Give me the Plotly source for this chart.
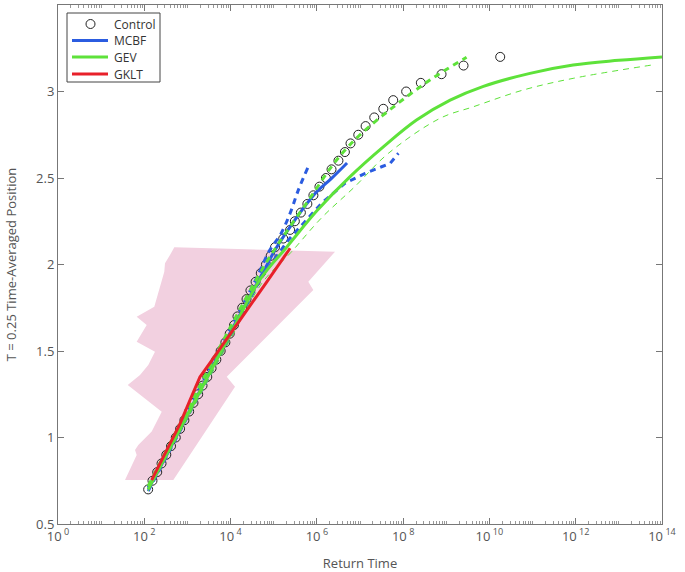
import plotly.graph_objects as go

# ---------------- data (exponents are log10 of return time) ----------------
control_exp = [2.09, 2.19, 2.30, 2.40, 2.51, 2.62, 2.73, 2.83, 2.93, 3.04, 3.14, 3.25, 3.35, 3.46,
               3.56, 3.67, 3.77, 3.88, 3.98, 4.08, 4.16, 4.27, 4.37, 4.46, 4.58, 4.70, 4.82, 4.93,
               5.03, 5.22, 5.38, 5.49, 5.63, 5.78, 5.92, 6.06, 6.21, 6.34, 6.50, 6.65, 6.78, 6.96,
               7.13, 7.33, 7.54, 7.77, 8.07, 8.41, 8.89, 9.40, 10.25]
control_val = [0.70, 0.75, 0.80, 0.85, 0.90, 0.95, 1.00, 1.05, 1.10, 1.15, 1.20, 1.25, 1.30, 1.35,
               1.40, 1.45, 1.50, 1.55, 1.60, 1.65, 1.70, 1.75, 1.80, 1.85, 1.90, 1.95, 2.00, 2.05,
               2.10, 2.15, 2.20, 2.25, 2.30, 2.35, 2.40, 2.45, 2.50, 2.55, 2.60, 2.65, 2.70, 2.75,
               2.80, 2.85, 2.90, 2.95, 3.00, 3.05, 3.10, 3.15, 3.20]

mcbf_exp = [2.09, 2.50, 3.00, 3.50, 4.00, 4.50, 4.85, 5.03, 5.49, 5.96, 6.34, 6.70]
mcbf_val = [0.70, 0.89, 1.13, 1.37, 1.61, 1.84, 2.00, 2.084, 2.257, 2.41, 2.498, 2.587]

mcbf_hi_exp = [2.09, 3.00, 4.00, 4.60, 4.91, 5.15, 5.38, 5.57, 5.80]
mcbf_hi_val = [0.71, 1.15, 1.63, 1.92, 2.084, 2.17, 2.296, 2.43, 2.565]

mcbf_lo_exp = [2.09, 3.00, 4.00, 4.70, 5.34, 6.11, 6.65, 7.12, 7.50, 7.70, 7.89]
mcbf_lo_val = [0.69, 1.12, 1.59, 1.92, 2.142, 2.354, 2.469, 2.527, 2.565, 2.585, 2.643]

gev_exp = [2.09, 3.00, 4.00, 4.70, 5.30, 6.00, 6.77, 7.54, 8.31, 9.09, 9.86, 10.94, 11.94, 13.00, 14.00]
gev_val = [0.70, 1.13, 1.60, 1.92, 2.10, 2.31, 2.508, 2.68, 2.835, 2.95, 3.03, 3.105, 3.153, 3.18, 3.20]

gev_hi_exp = [2.09, 3.00, 4.00, 4.80, 5.30, 5.84, 6.31, 6.65, 7.00, 7.77, 8.62, 9.47]
gev_hi_val = [0.72, 1.16, 1.64, 2.00, 2.19, 2.383, 2.556, 2.66, 2.75, 2.91, 3.066, 3.198]

gev_lo_exp = [2.09, 3.00, 4.00, 4.75, 5.40, 6.11, 6.88, 7.66, 8.855, 9.63, 10.79, 11.94, 13.76]
gev_lo_val = [0.69, 1.11, 1.57, 1.90, 2.07, 2.27, 2.45, 2.643, 2.845, 2.912, 3.009, 3.076, 3.153]

gklt_exp = [2.17, 2.52, 2.83, 3.06, 3.29, 3.52, 3.79, 4.06, 4.45, 4.84, 5.38]
gklt_val = [0.754, 0.93, 1.08, 1.217, 1.35, 1.43, 1.525, 1.62, 1.76, 1.90, 2.094]

band_exp = [2.696, 6.421, 5.802, 5.918, 3.911, 4.103, 2.673, 1.553, 1.824, 1.785, 1.861, 2.172,
            2.404, 1.616, 1.901, 2.093, 2.248, 1.824, 2.056, 1.824, 2.232, 2.464, 2.480, 2.596]
band_val = [2.099, 2.074, 1.901, 1.853, 1.351, 1.294, 0.754, 0.754, 0.899, 0.928, 0.957, 1.034,
            1.149, 1.303, 1.361, 1.419, 1.496, 1.554, 1.650, 1.698, 1.756, 1.958, 2.007, 2.055]

x_tick_exp = [0, 2, 4, 6, 8, 10, 12, 14]
y_ticks = [0.5, 1, 1.5, 2, 2.5, 3, 3.5]

legend_names = ["Control", "MCBF", "GEV", "GKLT"]

BLUE = "#2b5ce0"
GREEN = "#5ee23a"
RED = "#e8202a"
PINK = "rgb(242,208,224)"
legend_colors = [None, BLUE, GREEN, RED]


def tx(exps):
    return [10 ** e for e in exps]


fig = go.Figure()

fig.add_trace(go.Scatter(x=tx(band_exp), y=band_val, fill="toself", fillcolor=PINK,
                         line=dict(width=0, color=PINK), mode="lines", showlegend=False,
                         hoverinfo="skip"))

fig.add_trace(go.Scatter(x=tx(control_exp), y=control_val, mode="markers", name="Control",
                         showlegend=False,
                         marker=dict(symbol="circle-open", size=9, color="#222",
                                     line=dict(width=1, color="#222"))))

fig.add_trace(go.Scatter(x=tx(mcbf_exp), y=mcbf_val, mode="lines", name="MCBF", showlegend=False,
                         line=dict(color=BLUE, width=3, shape="spline")))
fig.add_trace(go.Scatter(x=tx(mcbf_hi_exp), y=mcbf_hi_val, mode="lines", showlegend=False,
                         line=dict(color=BLUE, width=3, dash="6px,5px", shape="spline")))
fig.add_trace(go.Scatter(x=tx(mcbf_lo_exp), y=mcbf_lo_val, mode="lines", showlegend=False,
                         line=dict(color=BLUE, width=3, dash="6px,5px")))

fig.add_trace(go.Scatter(x=tx(gev_exp), y=gev_val, mode="lines", name="GEV", showlegend=False,
                         line=dict(color=GREEN, width=3, shape="spline")))
fig.add_trace(go.Scatter(x=tx(gev_hi_exp), y=gev_hi_val, mode="lines", showlegend=False,
                         line=dict(color=GREEN, width=3, dash="6px,5px", shape="spline")))
fig.add_trace(go.Scatter(x=tx(gev_lo_exp), y=gev_lo_val, mode="lines", showlegend=False,
                         line=dict(color=GREEN, width=1, dash="6px,5px", shape="spline")))

fig.add_trace(go.Scatter(x=tx(gklt_exp), y=gklt_val, mode="lines", name="GKLT", showlegend=False,
                         line=dict(color=RED, width=3)))

# ---- legend box drawn in paper coordinates (MATLAB-style compact legend) ----
W_PLOT, H_PLOT, L, T = 604.0, 519.0, 58.0, 5.0


def px(xp):
    return (xp - L) / W_PLOT


def py(yp):
    return (T + H_PLOT - yp) / H_PLOT


shapes = [dict(type="rect", xref="paper", yref="paper", x0=px(67), x1=px(160), y0=py(82), y1=py(13),
               line=dict(color="#444", width=1), fillcolor="white", layer="above")]
annotations = []
row_y = [24, 40.5, 57, 74]
for name, col, yy in zip(legend_names, legend_colors, row_y):
    if col is None:
        shapes.append(dict(type="circle", xref="paper", yref="paper",
                           x0=px(86), x1=px(95), y0=py(yy + 4.5), y1=py(yy - 4.5),
                           line=dict(color="#222", width=1), layer="above"))
    else:
        shapes.append(dict(type="line", xref="paper", yref="paper",
                           x0=px(72), x1=px(108), y0=py(yy), y1=py(yy),
                           line=dict(color=col, width=3), layer="above"))
    annotations.append(dict(text=name, xref="paper", yref="paper", x=px(112), y=py(yy),
                            xanchor="left", yanchor="middle", showarrow=False,
                            font=dict(family="Open Sans, Lato, sans-serif", size=12, color="#333")))

axis_font = dict(family="Open Sans, Lato, sans-serif", size=13, color="#555")

fig.update_layout(
    width=685, height=572,
    margin=dict(l=58, r=23, t=5, b=48),
    paper_bgcolor="white", plot_bgcolor="white",
    font=axis_font,
    showlegend=False,
    shapes=shapes,
    annotations=annotations,
    xaxis=dict(type="log", range=[0, 14], automargin=False,
               tickvals=tx(x_tick_exp),
               ticktext=[f"10<sup> {e}</sup>" for e in x_tick_exp],
               ticks="inside", ticklen=6, tickcolor="#777", linecolor="#777", linewidth=1,
               mirror="ticks", showgrid=False, zeroline=False,
               minor=dict(ticks="inside", ticklen=3, tickcolor="#999", dtick="D1", showgrid=False),
               title=dict(text="Return Time", font=axis_font, standoff=18)),
    yaxis=dict(range=[0.5, 3.5], tickvals=y_ticks, automargin=False,
               ticktext=[f"{v:g}" for v in y_ticks],
               ticks="inside", ticklen=6, tickcolor="#777", linecolor="#777", linewidth=1,
               mirror="ticks", showgrid=False, zeroline=False,
               title=dict(text="T = 0.25 Time-Averaged Position", font=axis_font, standoff=16)),
)

fig.write_html("out.html", config={"displayModeBar": False},
               post_script="document.body.style.margin='0';document.body.style.overflow='hidden';")
